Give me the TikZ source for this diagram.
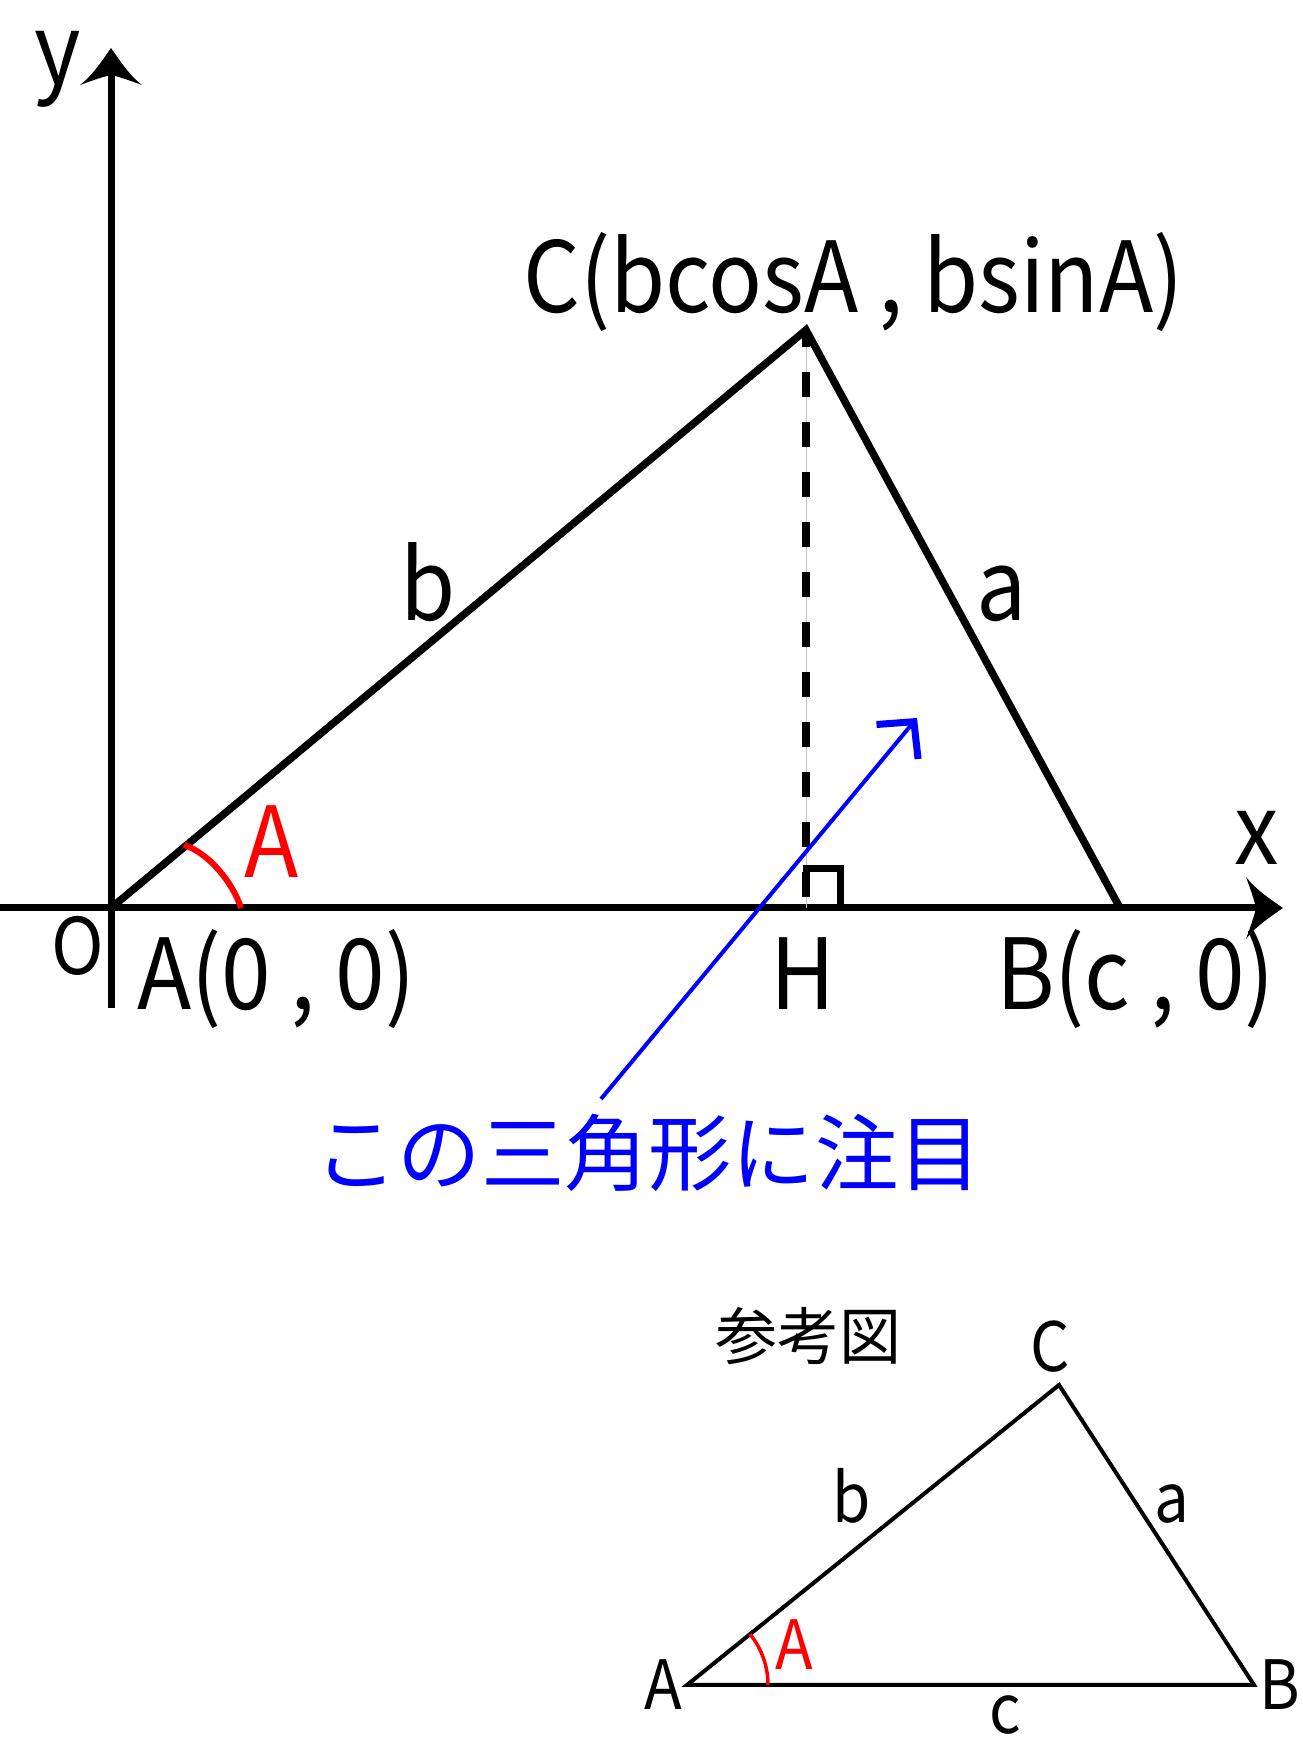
\documentclass[tikz,border=0pt]{standalone}
\usepackage{fontspec}
\setmainfont{Noto Sans CJK JP}
\newfontfamily\latn{Noto Sans CJK JP}[FakeStretch=0.91]
\usetikzlibrary{arrows.meta}
\begin{document}
\begin{tikzpicture}[x=1pt,y=1pt,
  big/.style={font=\latn\fontsize{98}{110}\selectfont, inner sep=0pt},
  mid/.style={font=\latn\fontsize{78}{90}\selectfont, inner sep=0pt},
  small/.style={font=\latn\fontsize{68}{80}\selectfont, inner sep=0pt},
  jp/.style={font=\fontsize{83.5}{95}\selectfont, inner sep=0pt},
  jpsmall/.style={font=\fontsize{62}{72}\selectfont, inner sep=0pt},
  heavy/.style={line width=7.5pt, line join=miter},
  axis/.style={line width=7pt},
  light/.style={line width=4pt, line join=miter},
  axhead/.pic={\fill (0,0) .. controls (9,-13) and (19,-28) .. (31,-37)
      .. controls (20,-33) and (9,-29) .. (0,-27)
      .. controls (-9,-29) and (-20,-33) .. (-31,-37)
      .. controls (-19,-28) and (-9,-13) .. (0,0) -- cycle;},
]
\useasboundingbox (0,0) rectangle (1302,1756);
% coordinates
\coordinate (yb) at (111,748);
\coordinate (ytip) at (111,1708);
\coordinate (yend) at (111,1682);
\coordinate (xb) at (0,848);
\coordinate (xtip) at (1283,848);
\coordinate (xend) at (1257,848);
\coordinate (A) at (111,848);
\coordinate (B) at (1120,848);
\coordinate (C) at (806,1426);
\coordinate (H) at (806,848);
% axes
\draw[axis] (yb) -- (yend);
\draw[axis] (xb) -- (xend);
\pic at (ytip) {axhead};
\pic[rotate=-90] at (xtip) {axhead};
% triangle
\draw[heavy] (A) -- (C) -- (B);
% altitude
\draw[black!25, line width=1pt] (C) -- (H);
\draw[line width=8pt, dash pattern=on 25pt off 25pt, dash phase=8pt] (C) -- (H);
\draw[line width=7pt, line join=miter] (803,887) -- (840,887) -- (840,848);
% angle mark
\draw[red, line width=6pt] (184,911) .. controls (209,903) and (233,873) .. (241,848);
% labels
\node[big, anchor=base] (ly) at (58,1671) {y};
\node[big, anchor=base] (lx) at (1257,891) {x};
\node[mid, anchor=base] (lo) at (78,781) {O};
\node[big, anchor=base west] (lA) at (137,746) {A(0 , 0)};
\node[big, anchor=base] (lH) at (803,746) {H};
\node[big, anchor=base west] (lB) at (996,746) {B(c , 0)};
\node[big, anchor=base west] (lC) at (523,1443) {C(bcosA , bsinA)};
\node[big, anchor=base] (lb) at (428,1135) {b};
\node[big, anchor=base] (la) at (1002,1135) {a};
\node[big, anchor=base, text=red] (lang) at (272,878) {A};
% note
\node[jp, anchor=west, text=blue] (note) at (314,603) {この三角形に注目};
\coordinate (bs) at (601,657);
\coordinate (bt) at (917,1038);
\draw[blue, line width=4pt, -{Straight Barb[length=26pt, width=54pt, line width=7pt]}] (bs) -- (bt);
% reference figure
\node[jpsmall] (ref) at (808,420) {参考図};
\coordinate (sA) at (687,71);
\coordinate (sB) at (1254,71);
\coordinate (sC) at (1059,371);
\draw[light] (sA) -- (sB) -- (sC) -- cycle;
\draw[red, line width=3.5pt] ([shift={(0:81)}]sA) arc[start angle=0, end angle=38.9, radius=81];
\node[small, anchor=base] (sCl) at (1050,384) {C};
\node[small, anchor=base] (sAl) at (663,46) {A};
\node[small, anchor=base] (sBl) at (1280,46) {B};
\node[small, anchor=base] (sbl) at (852,233) {b};
\node[small, anchor=base] (sal) at (1172,233) {a};
\node[small, anchor=base] (scl) at (1005,23) {c};
\node[small, anchor=base, text=red] (sangl) at (794,86) {A};
\end{tikzpicture}
\end{document}
